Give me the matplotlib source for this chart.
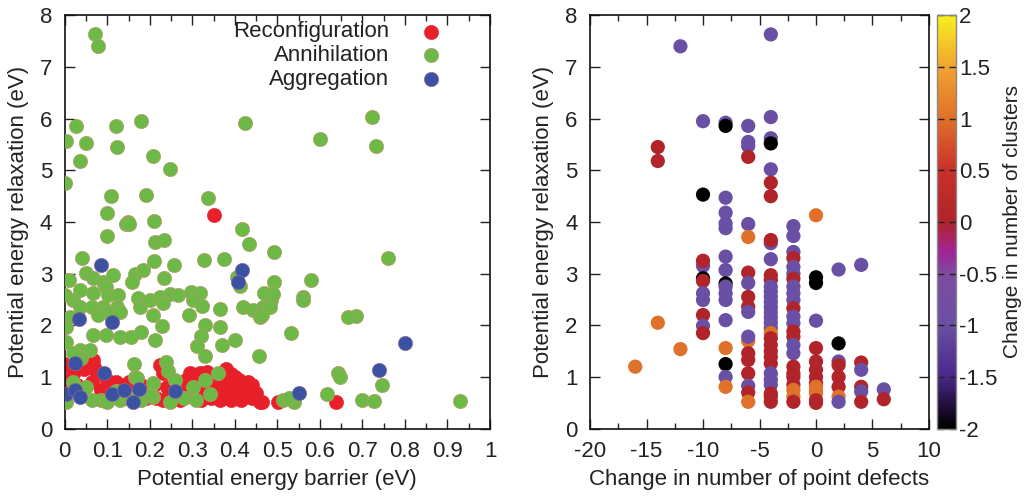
import matplotlib
matplotlib.use("Agg")
import matplotlib.pyplot as plt
import numpy as np
from matplotlib.colors import LinearSegmentedColormap
from matplotlib.ticker import MultipleLocator


plt.rcParams['font.family'] = ['Liberation Sans', 'DejaVu Sans']
plt.rcParams['font.size'] = 16
plt.rcParams['axes.unicode_minus'] = False
plt.rcParams['text.color'] = '#222222'
plt.rcParams['axes.labelcolor'] = '#222222'
plt.rcParams['xtick.color'] = '#222222'
plt.rcParams['ytick.color'] = '#222222'


# ── left panel: barrier vs relaxation, by event type ─────────────────────────
reconf_barrier = [0.0, 0.005, 0.02, 0.03, 0.045, 0.06, 0.07, 0.075, 0.065, 0.085,
                  0.09, 0.1, 0.105, 0.115, 0.12, 0.13, 0.14, 0.15, 0.16, 0.17,
                  0.18, 0.19, 0.2, 0.21, 0.215, 0.224, 0.231, 0.23, 0.24, 0.25,
                  0.26, 0.27, 0.28, 0.286, 0.294, 0.3, 0.31, 0.318, 0.32, 0.33,
                  0.335, 0.34, 0.345, 0.35, 0.355, 0.36, 0.365, 0.37, 0.375, 0.38,
                  0.385, 0.39, 0.395, 0.4, 0.405, 0.41, 0.415, 0.42, 0.425, 0.43,
                  0.44, 0.45, 0.459, 0.463, 0.502, 0.639, 0.352, 0.067, 0.004, 0.062,
                  0.38, 0.4, 0.36, 0.41, 0.44, 0.43, 0.39, 0.37]
reconf_relax = [1.25, 0.95, 1.05, 0.85, 1.15, 1.3, 1.2, 1.05, 0.9, 0.75,
                0.6, 0.95, 0.8, 0.65, 0.9, 0.85, 0.6, 0.9, 0.8, 0.7,
                0.85, 0.6, 0.75, 0.85, 0.6, 1.23, 1.07, 0.55, 0.8, 0.65,
                0.9, 0.55, 0.7, 0.94, 1.07, 0.65, 0.85, 1.07, 0.55, 0.75,
                1.1, 0.95, 0.6, 0.85, 0.7, 1.0, 0.55, 0.8, 0.65, 0.9,
                0.75, 1.05, 0.6, 0.85, 0.7, 0.95, 0.55, 0.8, 0.65, 0.9,
                0.6, 0.7, 0.52, 0.52, 0.52, 0.52, 4.13, 1.33, 1.23, 1.2,
                1.15, 1.0, 0.75, 0.6, 0.85, 0.75, 0.55, 0.6]

annih_barrier = [0.072, 0.078, 0.026, 0.12, 0.179, 0.424, 0.004, 0.049, 0.122, 0.035,
                 0.208, 0.247, 0.0, 0.108, 0.192, 0.338, 0.10, 0.149, 0.209, 0.723,
                 0.60, 0.732, 0.143, 0.151, 0.418, 0.099, 0.212, 0.234, 0.434, 0.492,
                 0.041, 0.21, 0.256, 0.327, 0.375, 0.761,
                 0.049, 0.067, 0.09, 0.098, 0.114, 0.102, 0.125, 0.067, 0.035, 0.02,
                 0.0, 0.035, 0.063, 0.09, 0.122, 0.102, 0.129, 0.078, 0.012, 0.009,
                 0.165, 0.184, 0.159, 0.172, 0.176, 0.2, 0.224, 0.247, 0.231, 0.208,
                 0.234, 0.267, 0.298, 0.318, 0.302, 0.322, 0.292, 0.365, 0.42, 0.443,
                 0.467, 0.486, 0.459, 0.492, 0.412, 0.404, 0.58, 0.468, 0.49, 0.561,
                 0.482, 0.463, 0.684, 0.56, 0.666,
                 0.004, 0.004, 0.067, 0.098, 0.129, 0.157, 0.18, 0.212, 0.228, 0.035,
                 0.059, 0.039, 0.02, 0.33, 0.32, 0.31, 0.33, 0.365, 0.369, 0.40,
                 0.457, 0.532,
                 0.162, 0.165, 0.239, 0.243, 0.302, 0.341, 0.361, 0.308, 0.247, 0.004,
                 0.208, 0.17, 0.12, 0.035, 0.063, 0.02, 0.05, 0.085, 0.13, 0.15,
                 0.18, 0.204, 0.208, 0.26, 0.28, 0.33, 0.1,
                 0.514, 0.54, 0.527, 0.616, 0.643, 0.647, 0.745, 0.70, 0.728, 0.929]
annih_relax = [7.63, 7.40, 5.86, 5.85, 5.95, 5.91, 5.56, 5.52, 5.45, 5.18,
               5.27, 5.02, 4.76, 4.50, 4.53, 4.46, 4.18, 4.00, 4.02, 6.04,
               5.60, 5.47, 3.96, 3.97, 3.87, 3.73, 3.62, 3.65, 3.57, 3.42,
               3.31, 3.24, 3.17, 3.26, 3.28, 3.31,
               3.01, 2.91, 2.84, 2.74, 2.97, 2.59, 2.59, 2.62, 2.68, 2.49,
               2.59, 2.36, 2.36, 2.36, 2.36, 2.23, 2.26, 2.20, 2.17, 2.88,
               2.99, 3.07, 2.84, 2.52, 2.36, 2.49, 2.55, 2.60, 2.43, 2.20,
               2.91, 2.59, 2.65, 2.62, 2.49, 2.37, 2.20, 2.31, 2.36, 2.30,
               2.36, 2.49, 2.17, 2.84, 2.76, 2.94, 2.88, 2.62, 2.60, 2.55,
               2.36, 2.20, 2.18, 2.49, 2.17,
               1.97, 1.68, 1.81, 1.81, 1.78, 1.78, 1.88, 1.72, 1.99, 1.52,
               1.52, 1.36, 1.46, 2.00, 1.80, 1.60, 1.40, 1.97, 1.62, 1.72,
               1.41, 1.86,
               1.25, 1.00, 1.30, 1.12, 0.81, 0.68, 1.07, 0.56, 0.51, 0.52,
               0.62, 0.98, 0.73, 0.75, 0.55, 0.90, 0.80, 0.55, 0.55, 0.60,
               0.55, 0.68, 0.88, 0.95, 0.60, 0.95, 0.52,
               0.55, 0.52, 0.59, 0.68, 1.07, 1.00, 0.84, 0.56, 0.54, 0.54]

aggr_barrier = [0.086, 0.416, 0.408, 0.034, 0.111, 0.024, 0.092, 0.004, 0.024, 0.035,
                0.11, 0.139, 0.175, 0.161, 0.259, 0.551, 0.738, 0.80]
aggr_relax = [3.17, 3.08, 2.84, 2.12, 2.06, 1.28, 1.07, 0.67, 0.75, 0.62,
              0.67, 0.74, 0.76, 0.51, 0.73, 0.69, 1.14, 1.66]

# ── right panel: one entry per value of "change in point defects" ────────────
defect_values = [-16, -14, -12, -10, -8, -6, -4, -2, 0, 2, 4, 6]
relax_by_defect = [
    [1.2],
    [5.45, 5.18, 2.05],
    [7.4, 1.54],
    [5.95, 4.53, 3.15, 3.25, 2.91, 2.86, 2.62, 2.49, 2.2, 1.99, 1.85],
    [5.92, 5.86, 4.47, 4.18, 3.97, 3.88, 3.33, 3.07, 2.81, 2.75, 2.62, 2.49,
     2.1, 1.56, 1.25, 1.0, 0.81],
    [5.86, 5.55, 5.47, 5.26, 3.96, 3.71, 3.02, 2.82, 2.55, 2.36, 2.26, 1.7,
     1.78, 1.46, 1.33, 1.07, 0.83, 0.7, 0.52],
    [7.63, 6.03, 5.62, 5.52, 5.02, 4.76, 4.5, 3.59, 3.65, 3.28, 2.97, 2.88,
     2.75, 2.65, 2.55, 2.45, 2.35, 2.25, 2.15, 2.05, 1.95, 1.85, 1.75, 1.62,
     1.5, 1.39, 1.26, 1.07, 0.95, 0.85, 0.68, 0.62, 0.52],
    [3.92, 3.73, 3.42, 3.3, 3.13, 3.0, 2.9, 2.75, 2.62, 2.49, 2.33, 2.17,
     2.04, 1.88, 1.78, 1.62, 1.46, 1.2, 1.07, 1.0, 0.85, 0.75, 0.62, 0.52],
    [4.13, 2.93, 2.82, 2.09, 1.56, 1.3, 1.14, 1.0, 0.88, 0.81, 0.72, 0.68,
     0.55, 0.5],
    [3.08, 1.65, 1.3, 1.23, 1.0, 0.81, 0.62, 0.52],
    [3.17, 1.28, 1.14, 0.81, 0.72, 0.52],
    [0.76, 0.57],
]
clusters_by_defect = [
    [1],
    [0, 0, 1],
    [-1, 1],
    [-1, -2, -1, 0, -2, 0, -1, -1, 0, -1, 0],
    [-1, -2, -1, -1, -1, -1, -1, -1, -2, -1, -1, -1,
     -1, 1, -2, -1, 1],
    [-1, -1, -1, 0, -1, 1, 0, -1, 0, 0, -1, 1,
     -1, 0, 0, 0, -1, 0, 1],
    [-1, -1, -1, -2, -1, 0, 0, -1, 0, -1, 0, 0,
     -1, -1, -1, -1, -1, -1, -1, -1, -1, 1, 0, 0,
     0, 0, 0, -1, -1, -1, 0, 0, 0],
    [-1, -1, -1, 0, -1, -1, 0, -1, -1, -1, 0, -1,
     -1, 0, 0, -1, -1, 0, 0, 0, 0, 1, 1, 0],
    [1, -2, -2, -1, 0, 0, 0, 0, 0, 1, 1, 1,
     0, 0],
    [-1, -2, -1, 0, 0, 0, 1, -1],
    [-1, 0, -1, 0, -1, 0],
    [-1, 0],
]

defect_change = np.concatenate([[d] * len(r) for d, r in zip(defect_values, relax_by_defect)])
relaxation = np.concatenate(relax_by_defect)
cluster_change = np.concatenate(clusters_by_defect)

cluster_cmap = LinearSegmentedColormap.from_list("clusters", [
    (0.000, "#000000"),
    (0.060, "#241040"),
    (0.125, "#48288a"),
    (0.250, "#6a50a4"),
    (0.375, "#7c4ca0"),
    (0.425, "#a0259a"),
    (0.500, "#b0242a"),
    (0.625, "#c8302a"),
    (0.750, "#e0702a"),
    (0.875, "#f0a232"),
    (1.000, "#f8f01c"),
])


fig = plt.figure(figsize=(10.29, 4.98), dpi=100)
ax1 = fig.add_axes([0.0629, 0.1392, 0.4133, 0.8301])
ax2 = fig.add_axes([0.5734, 0.1392, 0.3294, 0.8301])
cax = fig.add_axes([0.9106, 0.1392, 0.0185, 0.8301])

msize = 105
ax1.scatter(reconf_barrier, reconf_relax, s=msize, c="#e8202a", edgecolors="#e8202a",
            linewidths=0.4, label="Reconfiguration", zorder=2)
ax1.scatter(annih_barrier, annih_relax, s=msize, c="#6cba45", edgecolors="#b39a6a",
            linewidths=0.5, label="Annihilation", zorder=3)
ax1.scatter(aggr_barrier, aggr_relax, s=msize, c="#3b52a2", edgecolors="#8a6a9a",
            linewidths=0.5, label="Aggregation", zorder=4)

ax1.set_xlim(0, 1)
ax1.set_ylim(0, 8)
ax1.xaxis.set_major_locator(MultipleLocator(0.1))
ax1.xaxis.set_minor_locator(MultipleLocator(0.05))
ax1.yaxis.set_major_locator(MultipleLocator(1))
ax1.xaxis.set_major_formatter(lambda v, p: f"{v:g}")
ax1.set_xlabel("Potential energy barrier (eV)", labelpad=5)
ax1.set_ylabel("Potential energy relaxation (eV)", labelpad=8)

leg = ax1.legend(loc="upper right", bbox_to_anchor=(0.94, 1.012), frameon=False,
                 markerfirst=False, scatterpoints=1, handletextpad=0.9,
                 labelspacing=0.12, borderpad=0, fontsize=16)

sc = ax2.scatter(defect_change, relaxation, s=msize, c=cluster_change, cmap=cluster_cmap,
                 vmin=-2, vmax=2, linewidths=0, zorder=2)
ax2.set_xlim(-20, 10)
ax2.set_ylim(0, 8)
ax2.xaxis.set_major_locator(MultipleLocator(5))
ax2.xaxis.set_minor_locator(MultipleLocator(2.5))
ax2.yaxis.set_major_locator(MultipleLocator(1))
ax2.set_xlabel("Change in number of point defects", labelpad=5)
ax2.set_ylabel("Potential energy relaxation (eV)", labelpad=8)

for ax in (ax1, ax2):
    for sp in ax.spines.values():
        sp.set_linewidth(1.2)
        sp.set_color("#111111")
    ax.tick_params(which="both", direction="in", top=True, right=True, width=1.0)
    ax.tick_params(which="major", length=7)
    ax.tick_params(which="minor", length=4)
    ax.tick_params(axis="x", which="major", pad=9)
    ax.tick_params(axis="y", which="major", pad=9)

cb = fig.colorbar(sc, cax=cax)
cb.set_ticks(np.arange(-2, 2.01, 0.5))
cb.ax.yaxis.set_major_formatter(lambda v, p: f"{v:g}")
cb.ax.tick_params(direction="in", left=True, right=True, length=5, width=1.0,
                  color="#222222", pad=2)
cb.outline.set_edgecolor("#888888")
cb.outline.set_linewidth(1.0)
cb.set_label("Change in number of clusters", fontsize=15, labelpad=4)

fig.savefig("out.png", dpi=100)
